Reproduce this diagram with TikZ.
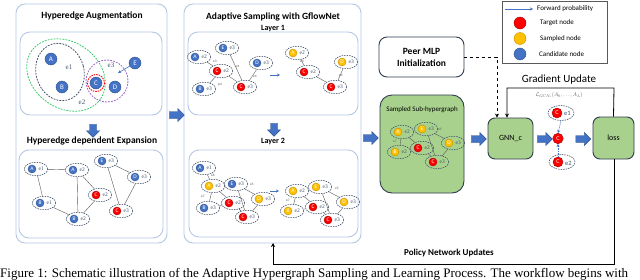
\documentclass[tikz,border=0pt]{standalone}
\usepackage{fontspec}
\setmainfont{Carlito}
\newfontfamily\capfont{Liberation Serif}
\newfontfamily\lserif{Liberation Serif}
\usetikzlibrary{shapes.geometric,shapes.arrows,arrows.meta}
\definecolor{pbord}{HTML}{B4C7E7}
\definecolor{nblue}{HTML}{4472C4}
\definecolor{nbluedk}{HTML}{2F528F}
\definecolor{nred}{HTML}{FF0000}
\definecolor{nreddk}{HTML}{A00000}
\definecolor{nyel}{HTML}{FFC000}
\definecolor{nyeldk}{HTML}{BF9000}
\definecolor{hedash}{HTML}{44546A}
\definecolor{gfill}{HTML}{A9D18E}
\definecolor{gbord}{HTML}{2E3D4F}
\definecolor{egray}{HTML}{595959}
\definecolor{dgreen}{HTML}{33CC66}
\definecolor{purp}{HTML}{9966CC}
\tikzset{
 panel/.style={draw=pbord, line width=0.9pt, rounded corners=9pt},
 ttl/.style={font=\fontsize{9.5}{11}\selectfont\bfseries, inner sep=0pt},
 subttl/.style={font=\fontsize{8}{9}\selectfont\bfseries, inner sep=0pt},
 nb/.style={circle, draw=nbluedk, fill=nblue, line width=0.4pt, inner sep=0pt, minimum size=8pt, text=white, font=\fontsize{5.5}{5.5}\selectfont},
 nr/.style={nb, draw=nreddk, fill=nred},
 ny/.style={nb, draw=nyeldk, fill=nyel},
 big/.style={minimum size=12pt, font=\fontsize{7}{7}\selectfont},
 hell/.style={ellipse, draw=hedash, dash pattern=on 1.5pt off 1pt, line width=0.6pt, minimum width=23.5pt, minimum height=13.5pt, inner sep=0pt},
 elab/.style={font=\fontsize{5.5}{6}\selectfont\lserif, text=hedash, inner sep=0pt},
 hedge/.style={draw=egray, line width=0.4pt},
 tinyl/.style={font=\fontsize{3.5}{4}\selectfont, text=egray, inner sep=0pt},
 barrow/.style={single arrow, draw=nbluedk, fill=nblue, line width=0.4pt, minimum height=15pt, inner sep=3.3pt, single arrow head extend=3pt},
 gbox/.style={draw=gbord, fill=gfill, line width=0.9pt, rounded corners=7pt},
 fwd/.style={draw=nblue, line width=0.6pt, -{Stealth[length=3pt,width=3pt]}},
 blk/.style={draw=black, line width=0.8pt, -{Stealth[length=4pt,width=4pt]}},
 lgt/.style={font=\fontsize{7}{8}\selectfont, anchor=west, inner sep=0pt},
}
\newcommand\hyp[6]{%
 \node[hell] (#1) at (#2+4,#3) {};
 \node[#4] (#1n) at (#2,#3) {#5};
 \node[elab] (#1l) at (#2+9.3,#3) {#6};}
\begin{document}
\begin{tikzpicture}[x=1pt,y=-1pt]
\useasboundingbox (0,0) rectangle (640,279);
\fill[white] (0,0) rectangle (640,279);

% ---------- left panel ----------
\draw[panel] (16,4) rectangle (167,243);
\node[ttl] (t1) at (92,16) {Hyperedge Augmentation};
\draw[panel, rounded corners=10pt] (20,32) rectangle (162,115);
\node[barrow, shape border rotate=270, minimum height=13pt] (da1) at (93,129) {};
\node[ttl] (t2) at (92,141) {Hyperedge dependent Expansion};
\draw[panel, rounded corners=10pt] (19,150) rectangle (163,238);

% augmentation content
\draw[dgreen, dash pattern=on 1.8pt off 1.2pt, line width=0.8pt, rotate around={-35:(66,75)}] (66,75) ellipse [x radius=42, y radius=33];
\draw[hedash, dash pattern=on 1.8pt off 1.2pt, line width=0.8pt, rotate around={15:(60,72)}] (60,72) ellipse [x radius=24, y radius=29];
\draw[purp, dash pattern=on 1.8pt off 1.2pt, line width=0.8pt] (107,81) circle [radius=21];
\draw[red, dash pattern=on 1.5pt off 1pt, line width=0.9pt] (96,83) circle [radius=8.5];
\node[nb, big] (gA) at (51,59) {A};
\node[nb, big] (gB) at (62,87) {B};
\node[nb, big] (gC) at (96,83) {C};
\node[nb, big] (gD) at (115,87) {D};
\node[nb, big] (gE) at (135,63) {E};
\coordinate (gEt) at (118,73);
\draw[fwd] (gE) -- (gEt);
\node[elab, font=\fontsize{7}{8}\selectfont\lserif] (ge1) at (69,67) {e1};
\node[elab, font=\fontsize{7}{8}\selectfont\lserif] (ge2) at (82,102) {e2};
\node[elab, font=\fontsize{7}{8}\selectfont\lserif] (ge3) at (111,65) {e3};

% expansion content
\hyp{xAa}{32}{169}{nb}{A}{e1}
\hyp{xAb}{73}{170}{nb}{A}{e2}
\hyp{xEc}{102}{161}{nb}{E}{e3}
\hyp{xDc}{135}{177}{nb}{D}{e3}
\hyp{xCb}{96}{195}{nr}{C}{e2}
\hyp{xBa}{40}{203}{nb}{B}{e1}
\hyp{xCc}{117}{211}{nr}{C}{e3}
\hyp{xBb}{74}{219}{nb}{B}{e2}
\draw[hedge] (xAa) -- (xAb);
\draw[hedge] (xAa) -- (xBa);
\draw[hedge] (xBa) -- (xBb);
\draw[hedge] (xAb) -- (xBb);
\draw[hedge] (xAb) -- (xCb);
\draw[hedge] (xCb) -- (xBb);
\draw[hedge] (xEc) -- (xCc);
\draw[hedge] (xEc) -- (xDc);
\draw[hedge] (xDc) -- (xCc);

% ---------- middle panel ----------
\draw[panel] (184,4) rectangle (361,243);
\node[ttl] (t3) at (273,17) {Adaptive Sampling with GflowNet};
\node[subttl] (l1) at (273,28.5) {Layer 1};
\draw[panel, rounded corners=10pt] (188,32) rectangle (358,115);
\node[barrow, shape border rotate=270, minimum height=13pt] (da2) at (274,128) {};
\node[subttl] (l2) at (273,142) {Layer 2};
\draw[panel, rounded corners=10pt] (189,150) rectangle (358,237);

% layer 1 left
\hyp{aA}{195}{57}{nb}{A}{e2}
\hyp{aE}{223}{48}{nb}{E}{e3}
\hyp{aD}{257}{63}{nb}{D}{e3}
\hyp{aC2}{217}{71}{nr}{C}{e2}
\hyp{aB}{200}{89}{nb}{B}{e3}
\hyp{aC3}{241}{87}{nr}{C}{e3}
\draw[hedge] (aA) -- (aC2);
\draw[hedge] (aE) -- (aC3);
\draw[hedge] (aC2) -- (aC3);
\draw[hedge] (aB) -- (aC2);
\draw[hedge] (aD) -- (aC3);
\node[tinyl] (ta1) at (215,61) {e3};
\node[tinyl] (ta2) at (238,66) {e1};
\node[tinyl] (ta3) at (220,85) {p4};
\node[tinyl] (ta4) at (255,76) {e4};
\coordinate (fa1) at (270,75); \coordinate (fa2) at (280,75);
\draw[fwd, line width=0.5pt] (fa1) -- (fa2);
% layer 1 right
\hyp{bA}{293}{53}{ny}{A}{e2}
\hyp{bC2}{304}{72}{nr}{C}{e2}
\hyp{bD}{342}{62}{ny}{D}{e3}
\hyp{bC3}{331}{87}{nr}{C}{e3}
\draw[hedge] (bA) -- (bC2);
\draw[hedge] (bC2) -- (bC3);
\draw[hedge] (bD) -- (bC3);
\node[tinyl] (tb1) at (302,61) {e3};
\node[tinyl] (tb2) at (341,75) {e4};

% layer 2 left
\hyp{cA1}{200}{168}{nb}{A}{e1}
\hyp{cA2}{209}{186}{ny}{A}{e2}
\hyp{cE}{232}{184}{nb}{E}{e3}
\hyp{cB}{204}{208}{nb}{B}{e3}
\hyp{cC2}{229}{203}{nr}{C}{e2}
\hyp{cD}{259}{199}{ny}{D}{e3}
\hyp{cC3}{243}{217}{nr}{C}{e3}
\draw[hedge] (cA1) -- (cA2);
\draw[hedge] (cA2) -- (cC2);
\draw[hedge] (cA2) -- (cB);
\draw[hedge] (cB) -- (cC2);
\draw[hedge] (cE) -- (cC3);
\draw[hedge] (cE) -- (cD);
\draw[hedge] (cD) -- (cC3);
\draw[hedge] (cC2) -- (cC3);
\node[tinyl] (tc1) at (213,175.5) {e6};
\node[tinyl] (tc2) at (203,196) {e7};
\node[tinyl] (tc3) at (252,184) {e5};
\coordinate (fc1) at (270,191); \coordinate (fc2) at (279,191);
\draw[fwd, line width=0.5pt] (fc1) -- (fc2);
% layer 2 right
\hyp{dA}{293}{191}{ny}{A}{e2}
\hyp{dE}{316}{187}{ny}{E}{e3}
\hyp{dB}{288}{211}{ny}{B}{e2}
\hyp{dC2}{313}{207}{nr}{C}{e2}
\hyp{dD}{344}{202}{ny}{D}{e3}
\hyp{dC3}{328}{220}{nr}{C}{e3}
\draw[hedge] (dA) -- (dC2);
\draw[hedge] (dA) -- (dB);
\draw[hedge] (dB) -- (dC2);
\draw[hedge] (dE) -- (dC3);
\draw[hedge] (dE) -- (dD);
\draw[hedge] (dD) -- (dC3);
\draw[hedge] (dC2) -- (dC3);
\node[tinyl] (td1) at (288,200) {e7};
\node[tinyl] (td2) at (337,188) {e5};

% block arrows between panels
\node[barrow] (ba1) at (175,115) {};
\node[barrow] (ba2) at (369,138) {};

% ---------- right part ----------
% legend
\draw[draw=egray, line width=0.8pt] (502,1) rectangle (607,63);
\coordinate (lg1) at (505,9); \coordinate (lg2) at (533,9);
\draw[fwd, line width=0.5pt] (lg1) -- (lg2);
\node[lgt] (lt1) at (537,9) {Forward probability};
\node[nr, big] (lc2) at (520,23) {};
\node[lgt] (lt2) at (540,23) {Target node};
\node[ny, big] (lc3) at (520,38.5) {};
\node[lgt] (lt3) at (540,38.5) {Sampled node};
\node[nb, big] (lc4) at (520,54) {};
\node[lgt] (lt4) at (539,54) {Candidate node};

% Peer MLP
\node[draw=gbord, line width=0.9pt, rounded corners=8pt, minimum width=85pt, minimum height=40pt, font=\fontsize{9.5}{12}\selectfont\bfseries, align=center, fill=white] (mlp) at (421.5,57) {Peer MLP\\Initialization};

% sampled sub-hypergraph
\draw[gbox, rounded corners=12pt] (380,95) rectangle (464,193);
\node[font=\fontsize{7}{8}\selectfont, inner sep=0pt] (sst) at (422,110) {Sampled Sub-hypergraph};
\hyp{sA}{398}{132}{ny}{A}{e2}
\hyp{sE}{422}{129}{ny}{E}{e3}
\hyp{sB}{395}{152}{ny}{B}{e2}
\hyp{sC2}{418}{148}{nr}{C}{e2}
\hyp{sD}{449}{143}{ny}{D}{e3}
\hyp{sC3}{433}{162}{nr}{C}{e3}
\draw[hedge] (sA) -- (sC2);
\draw[hedge] (sA) -- (sB);
\draw[hedge] (sB) -- (sC2);
\draw[hedge] (sE) -- (sC3);
\draw[hedge] (sE) -- (sD);
\draw[hedge] (sD) -- (sC3);
\draw[hedge] (sC2) -- (sC3);
\node[tinyl] (ts1) at (395,141) {e7};
\node[tinyl] (ts2) at (440,129) {e5};

% GNN and loss
\node[gbox, minimum width=45pt, minimum height=41pt, font=\fontsize{8}{9}\selectfont] (gnn) at (510.5,138.5) {GNN\_c};
\node[gbox, minimum width=41pt, minimum height=42pt, font=\fontsize{8}{9}\selectfont] (loss) at (613.5,138) {loss};
\node[barrow] (ba3) at (477,139) {};
\node[barrow] (ba4) at (543,139) {};
\node[barrow] (ba5) at (581.5,139) {};

% C nodes
\node[hell, minimum width=26pt, minimum height=15pt] (rC1) at (561,113) {};
\node[nr, minimum size=10pt, font=\fontsize{6}{6}\selectfont] (rC1n) at (557,113) {C};
\node[font=\fontsize{6.5}{7}\selectfont, text=hedash, inner sep=0pt] (rC1l) at (567.5,113) {e1};
\node[nr, minimum size=10.5pt, font=\fontsize{6}{6}\selectfont] (rC) at (558,138.5) {C};
\node[hell, minimum width=26pt, minimum height=15pt] (rC2) at (562,162) {};
\node[nr, minimum size=10pt, font=\fontsize{6}{6}\selectfont] (rC2n) at (558,162) {C};
\node[font=\fontsize{6.5}{7}\selectfont, text=hedash, inner sep=0pt] (rC2l) at (568.5,163) {e2};
\draw[fwd, dash pattern=on 1pt off 0.6pt, line width=0.5pt] (rC1.south) -- (rC.north);
\draw[fwd, dash pattern=on 1pt off 0.6pt, line width=0.5pt] (rC2n.north) -- (rC.south);

% connectors
\coordinate (mlpc) at (497,57);
\draw[blk, dashed] (mlp.east) -- (mlpc) -- (gnn.north -| mlpc);
\node[font=\fontsize{11}{12}\selectfont, inner sep=0pt] (gu) at (559,80) {Gradient Update};
\coordinate (gu1) at (614,88); \coordinate (gu2) at (507,88);
\draw[blk] (loss.north) -- (gu1) -- (gu2) -- (gnn.north -| gu2);
\node[text=egray, inner sep=0pt] (form) at (559,95) {\scalebox{0.55}{$\mathcal{L}_{GCN_c}(A_0,\ldots,A_L)$}};
\coordinate (pn1) at (614,264); \coordinate (pn2) at (273,264); \coordinate (pn3) at (273,243);
\draw[blk] (loss.south -| pn1) -- (pn1) -- (pn2) -- (pn3);
\node[font=\fontsize{9}{10}\selectfont\bfseries, inner sep=0pt] (pnu) at (449,253) {Policy Network Updates};

% caption (cut off at the bottom, as in the reference)
\node[anchor=base west, inner sep=0pt, font=\capfont\fontsize{13}{14}\selectfont] (cap) at (0,277.5) {Figure 1: Schematic illustration of the Adaptive Hypergraph Sampling and Learning Process. The workflow begins with};
\end{tikzpicture}
\end{document}
